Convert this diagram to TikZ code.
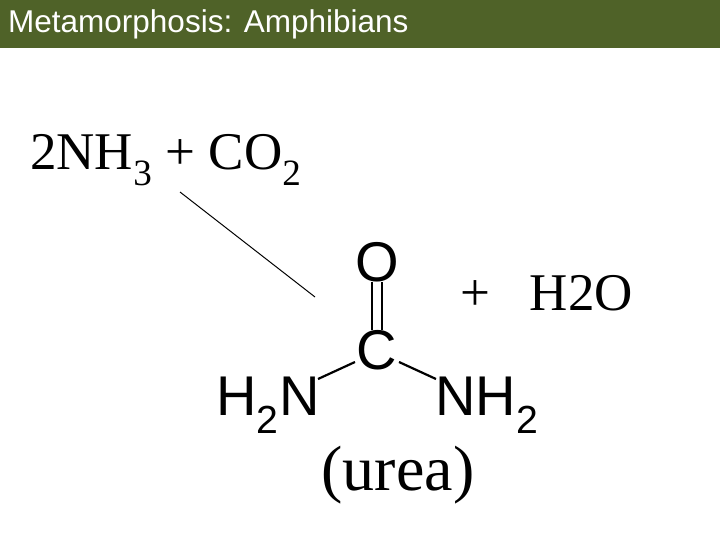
\documentclass[tikz,border=0pt]{standalone}
\usepackage{fontspec}
\setmainfont{Liberation Serif}
\setsansfont{Liberation Sans}
\begin{document}
\begin{tikzpicture}[x=1pt,y=-1pt,
  serif/.style={font=\fontsize{53}{56}\selectfont,inner sep=0pt},
  chem/.style={font=\sffamily\fontsize{56}{60}\selectfont,inner sep=0pt},
  bond/.style={line width=2.2pt}]
\useasboundingbox (0,0) rectangle (720,540);
\fill[white] (0,0) rectangle (720,540);
\fill[fill={rgb,255:red,79;green,98;blue,40}] (0,0) rectangle (720,48);
\node[anchor=west,text=white,font=\sffamily\fontsize{31.5}{33}\selectfont,inner sep=0pt] (title) at (8,24) {Metamorphosis: Amphibians};
\node[serif,anchor=base west] (react) at (30,170) {2NH\textsubscript{3} + CO\textsubscript{2}};
\coordinate (ls) at (180,192);
\coordinate (le) at (315,297);
\draw[line width=1pt] (ls) -- (le);
\node[chem] (O) at (377,262) {O};
\node[chem] (C) at (377,350) {C};
\node[chem,anchor=base] (L) at (268,415) {H\textsubscript{2}N};
\node[chem,anchor=base] (R) at (487,415) {NH\textsubscript{2}};
\draw[bond] ([xshift=-5pt]O.south) -- ([xshift=-5pt]C.north);
\draw[bond] ([xshift=5pt]O.south) -- ([xshift=5pt]C.north);
\draw[bond] (355,362) -- (318,379);
\draw[bond] (399,362) -- (436,379);
\node[serif,font=\fontsize{53}{58}\selectfont,anchor=base west] (prod) at (460,310) {+\ \ \ H2O};
\node[serif,font=\fontsize{64}{68}\selectfont,anchor=base] (urea) at (398,490) {(urea)};
\end{tikzpicture}
\end{document}
